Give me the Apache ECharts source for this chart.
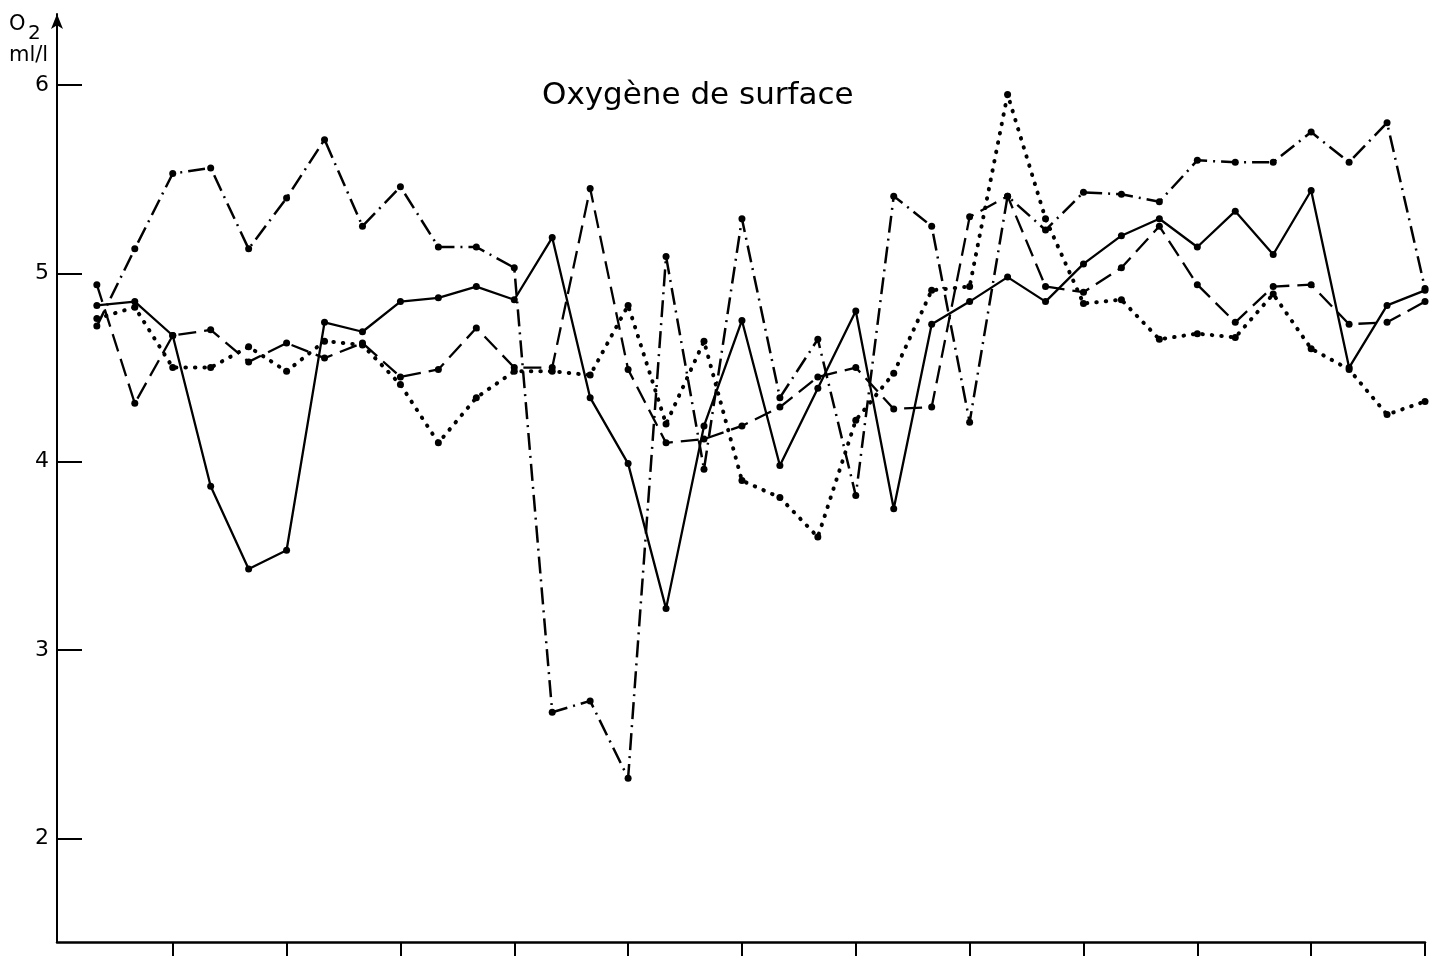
<!DOCTYPE html>
<html>
<head>
<meta charset="utf-8">
<script src="https://cdn.jsdelivr.net/npm/echarts@6/dist/echarts.min.js"></script>
<style>
  html, body { margin: 0; padding: 0; background: #fff; }
  #chart { width: 1439px; height: 957px; }
</style>
</head>
<body>
<div id="chart"></div>
<script>
// 36 relevés (3 par mois), teneur en oxygène de surface, ml/l
const releves = Array.from({ length: 36 }, (_, i) => i);

const serieTrait = [4.83, 4.85, 4.67, 3.87, 3.43, 3.53, 4.74, 4.69, 4.85, 4.87, 4.93, 4.86,
  5.19, 4.34, 3.99, 3.22, 4.19, 4.75, 3.98, 4.39, 4.80, 3.75, 4.73, 4.85,
  4.98, 4.85, 5.05, 5.20, 5.29, 5.14, 5.33, 5.10, 5.44, 4.50, 4.83, 4.91];

const serieTirets = [4.94, 4.31, 4.67, 4.70, 4.53, 4.63, 4.55, 4.63, 4.45, 4.49, 4.71, 4.50,
  4.50, 5.45, 4.49, 4.10, 4.12, 4.19, 4.29, 4.45, 4.50, 4.28, 4.29, 5.30,
  5.41, 4.93, 4.90, 5.03, 5.25, 4.94, 4.74, 4.93, 4.94, 4.73, 4.74, 4.85];

const seriePoints = [4.76, 4.82, 4.50, 4.50, 4.61, 4.48, 4.64, 4.62, 4.41, 4.10, 4.34, 4.48,
  4.48, 4.46, 4.83, 4.20, 4.64, 3.90, 3.81, 3.60, 4.22, 4.47, 4.91, 4.93,
  5.95, 5.29, 4.84, 4.86, 4.65, 4.68, 4.66, 4.89, 4.60, 4.49, 4.25, 4.32];

const serieMixte = [4.72, 5.13, 5.53, 5.56, 5.13, 5.40, 5.71, 5.25, 5.46, 5.14, 5.14, 5.03,
  2.67, 2.73, 2.32, 5.09, 3.96, 5.29, 4.34, 4.65, 3.82, 5.41, 5.25, 4.21,
  5.41, 5.23, 5.43, 5.42, 5.38, 5.60, 5.59, 5.59, 5.75, 5.59, 5.80, 4.92];

const yTicks = [2, 3, 4, 5, 6];
const xTicks = [2, 5, 8, 11, 14, 17, 20, 23, 26, 29, 32, 35];

const police = 'DejaVu Sans';
const chart = echarts.init(document.getElementById('chart'));

function ligne(nom, valeurs, trait, epaisseur, cap) {
  return {
    name: nom,
    type: 'line',
    data: releves.map((x, i) => [x, valeurs[i]]),
    symbol: 'circle',
    symbolSize: 7,
    itemStyle: { color: '#000' },
    lineStyle: { color: '#000', width: epaisseur, type: trait, cap: cap || 'butt' },
    animation: false,
    z: 3
  };
}

const option = {
  backgroundColor: '#fff',
  grid: { left: 57, right: 14, top: 14, bottom: 15 },
  xAxis: {
    type: 'value',
    min: -1.05,
    max: 35,
    splitLine: { show: false },
    axisLine: { onZero: false, lineStyle: { color: '#000', width: 2.5 } },
    axisTick: { show: true, inside: false, length: 14, lineStyle: { color: '#000', width: 2 }, customValues: xTicks },
    axisLabel: { show: false }
  },
  yAxis: {
    type: 'value',
    min: 1.45,
    max: 6.377,
    splitLine: { show: false },
    axisLine: {
      show: true,
      onZero: false,
      symbol: ['none', 'arrow'],
      symbolSize: [9, 15],
      lineStyle: { color: '#000', width: 2 }
    },
    axisTick: { show: true, inside: true, length: 25, lineStyle: { color: '#000', width: 2 }, customValues: yTicks },
    axisLabel: {
      customValues: yTicks,
      color: '#000',
      fontFamily: police,
      fontSize: 22,
      margin: 8
    }
  },
  graphic: [
    { type: 'text', left: 9, top: 14, style: { text: 'O', fontFamily: police, fontSize: 21, fill: '#000' } },
    { type: 'text', left: 28, top: 24, style: { text: '2', fontFamily: police, fontSize: 20, fill: '#000' } },
    { type: 'text', left: 9, top: 45, style: { text: 'ml/l', fontFamily: police, fontSize: 21, fill: '#000' } },
    { type: 'text', left: 542, top: 80, style: { text: 'Oxygène de surface', fontFamily: police, fontSize: 31, fill: '#000' } }
  ],
  series: [
    ligne('trait', serieTrait, 'solid', 2.3),
    ligne('tirets', serieTirets, [18, 8], 2.3),
    ligne('points', seriePoints, [0.5, 9], 4, 'round'),
    ligne('mixte', serieMixte, [17, 6, 2, 6], 2.5)
  ]
};

chart.setOption(option);
</script>
</body>
</html>
